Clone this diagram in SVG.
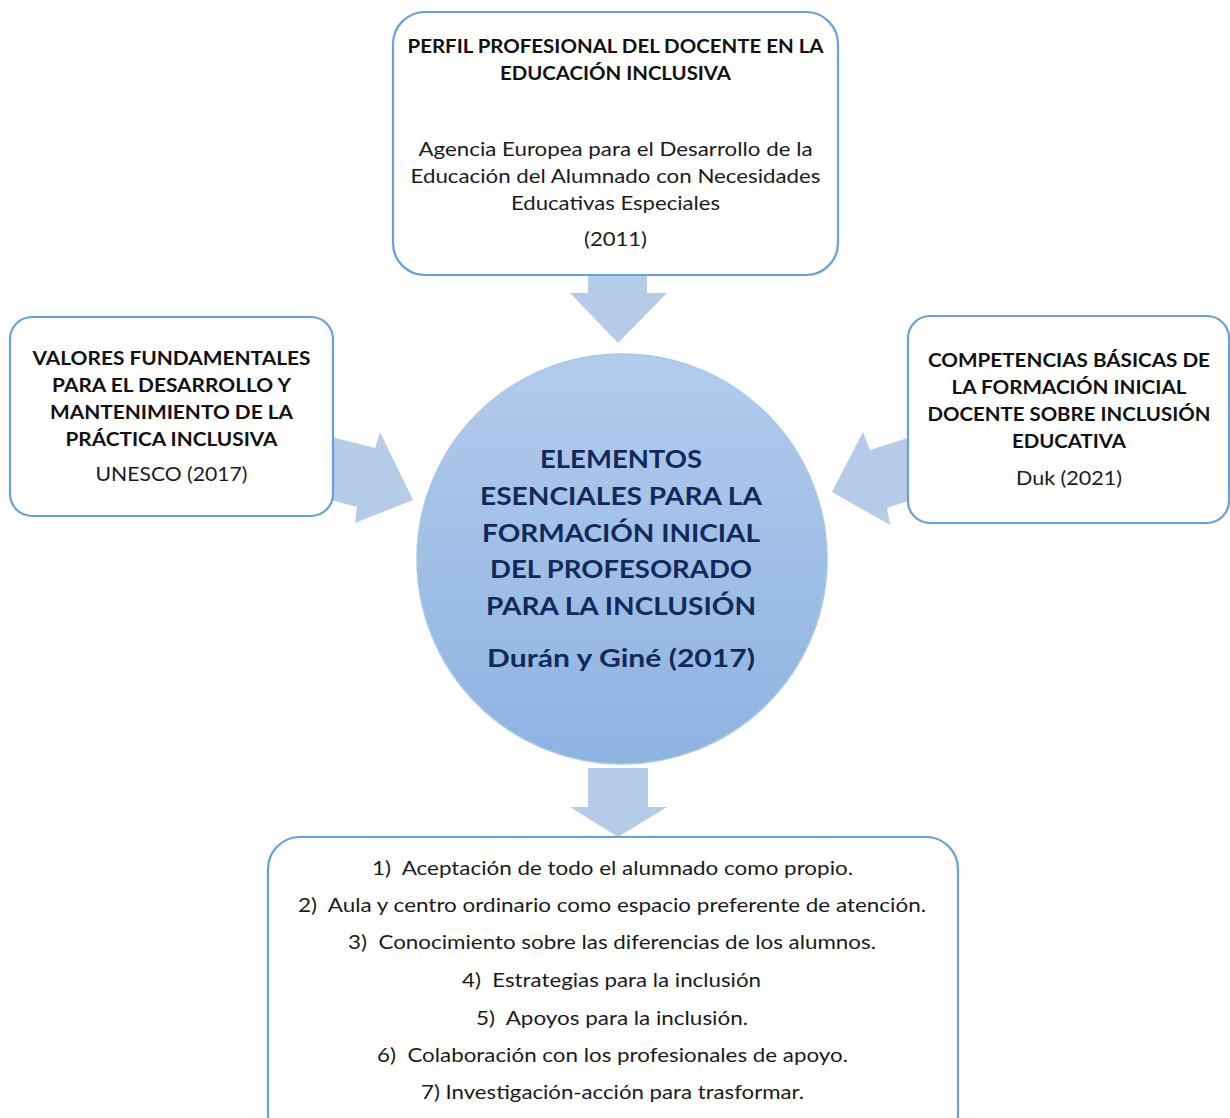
<svg xmlns="http://www.w3.org/2000/svg" width="1230" height="1118" viewBox="0 0 1230 1118">
<defs>
<linearGradient id="cg" x1="0" y1="0" x2="0" y2="1">
<stop offset="0" stop-color="#b2cceb"/>
<stop offset="1" stop-color="#8db3e1"/>
</linearGradient>
<style>
.box{fill:#ffffff;stroke:#6b9fd6;stroke-width:2.2}
.arr{fill:#b5cce9}
.h{font-family:Lato,"Liberation Sans",sans-serif;font-weight:bold;font-size:19.5px;fill:#111111;text-anchor:middle}
.r{font-family:Lato,"Liberation Sans",sans-serif;font-size:19px;fill:#1a1a1a;text-anchor:middle;white-space:pre}
.c{font-family:Lato,"Liberation Sans",sans-serif;font-weight:bold;font-size:25.5px;fill:#13295c;text-anchor:middle}
</style>
</defs>
<rect width="1230" height="1118" fill="#ffffff"/>
<g id="connectors">
<polygon class="arr" points="588,272 647,272 647,293 667,293 618,343 570,293 588,293"/>
<polygon class="arr" points="588,768 648,768 648,807 667,807 618,837 570,807 588,807"/>
<polygon class="arr" points="320,434 375,448 380,432 413,500 355,523 357,507 320,497"/>
<polygon class="arr" points="920,434 870,450 863,432 832,492 890,525 887,508 920,497"/>
</g>
<g id="node-top">
<rect class="box" x="393" y="12" width="445" height="263" rx="32"/>
<text class="h" x="615.5" y="53" textLength="416" lengthAdjust="spacingAndGlyphs">PERFIL PROFESIONAL DEL DOCENTE EN LA</text>
<text class="h" x="615.5" y="80" textLength="231" lengthAdjust="spacingAndGlyphs">EDUCACIÓN INCLUSIVA</text>
<text class="r" x="615.5" y="156" textLength="394" lengthAdjust="spacingAndGlyphs">Agencia Europea para el Desarrollo de la</text>
<text class="r" x="615.5" y="183" textLength="410" lengthAdjust="spacingAndGlyphs">Educación del Alumnado con Necesidades</text>
<text class="r" x="615.5" y="210" textLength="209" lengthAdjust="spacingAndGlyphs">Educativas Especiales</text>
<text class="r" x="615.5" y="246" textLength="63" lengthAdjust="spacingAndGlyphs">(2011)</text>
</g>
<g id="node-left">
<rect class="box" x="10" y="317" width="323" height="199" rx="22"/>
<text class="h" x="171.5" y="365" textLength="278" lengthAdjust="spacingAndGlyphs">VALORES FUNDAMENTALES</text>
<text class="h" x="171.5" y="392" textLength="239" lengthAdjust="spacingAndGlyphs">PARA EL DESARROLLO Y</text>
<text class="h" x="171.5" y="419" textLength="243" lengthAdjust="spacingAndGlyphs">MANTENIMIENTO DE LA</text>
<text class="h" x="171.5" y="446" textLength="212" lengthAdjust="spacingAndGlyphs">PRÁCTICA INCLUSIVA</text>
<text class="r" x="171.5" y="481" textLength="152" lengthAdjust="spacingAndGlyphs">UNESCO (2017)</text>
</g>
<g id="node-right">
<rect class="box" x="908" y="316" width="321" height="207" rx="22"/>
<text class="h" x="1069" y="367" textLength="282" lengthAdjust="spacingAndGlyphs">COMPETENCIAS BÁSICAS DE</text>
<text class="h" x="1069" y="394" textLength="235" lengthAdjust="spacingAndGlyphs">LA FORMACIÓN INICIAL</text>
<text class="h" x="1069" y="421" textLength="283" lengthAdjust="spacingAndGlyphs">DOCENTE SOBRE INCLUSIÓN</text>
<text class="h" x="1069" y="448" textLength="114" lengthAdjust="spacingAndGlyphs">EDUCATIVA</text>
<text class="r" x="1069" y="485" textLength="106" lengthAdjust="spacingAndGlyphs">Duk (2021)</text>
</g>
<g id="node-center">
<circle cx="622" cy="559" r="205" fill="url(#cg)" stroke="#a9c6e8" stroke-width="1.5"/>
<text class="c" x="621" y="468" textLength="162" lengthAdjust="spacingAndGlyphs">ELEMENTOS</text>
<text class="c" x="621" y="505" textLength="282" lengthAdjust="spacingAndGlyphs">ESENCIALES PARA LA</text>
<text class="c" x="621" y="542" textLength="278" lengthAdjust="spacingAndGlyphs">FORMACIÓN INICIAL</text>
<text class="c" x="621" y="578" textLength="262" lengthAdjust="spacingAndGlyphs">DEL PROFESORADO</text>
<text class="c" x="621" y="615" textLength="270" lengthAdjust="spacingAndGlyphs">PARA LA INCLUSIÓN</text>
<text class="c" x="621" y="667" textLength="268" lengthAdjust="spacingAndGlyphs">Durán y Giné (2017)</text>
</g>
<g id="node-bottom">
<rect class="box" x="268" y="837" width="690" height="310" rx="32"/>
<text class="r" x="612.5" y="875" textLength="481" lengthAdjust="spacingAndGlyphs">1)  Aceptación de todo el alumnado como propio.</text>
<text class="r" x="612" y="912" textLength="628" lengthAdjust="spacingAndGlyphs">2)  Aula y centro ordinario como espacio preferente de atención.</text>
<text class="r" x="612" y="949" textLength="528" lengthAdjust="spacingAndGlyphs">3)  Conocimiento sobre las diferencias de los alumnos.</text>
<text class="r" x="611.5" y="987" textLength="299" lengthAdjust="spacingAndGlyphs">4)  Estrategias para la inclusión</text>
<text class="r" x="612" y="1025" textLength="272" lengthAdjust="spacingAndGlyphs">5)  Apoyos para la inclusión.</text>
<text class="r" x="612.5" y="1062" textLength="471" lengthAdjust="spacingAndGlyphs">6)  Colaboración con los profesionales de apoyo.</text>
<text class="r" x="612.5" y="1099" textLength="383" lengthAdjust="spacingAndGlyphs">7) Investigación-acción para trasformar.</text>
</g>
</svg>
